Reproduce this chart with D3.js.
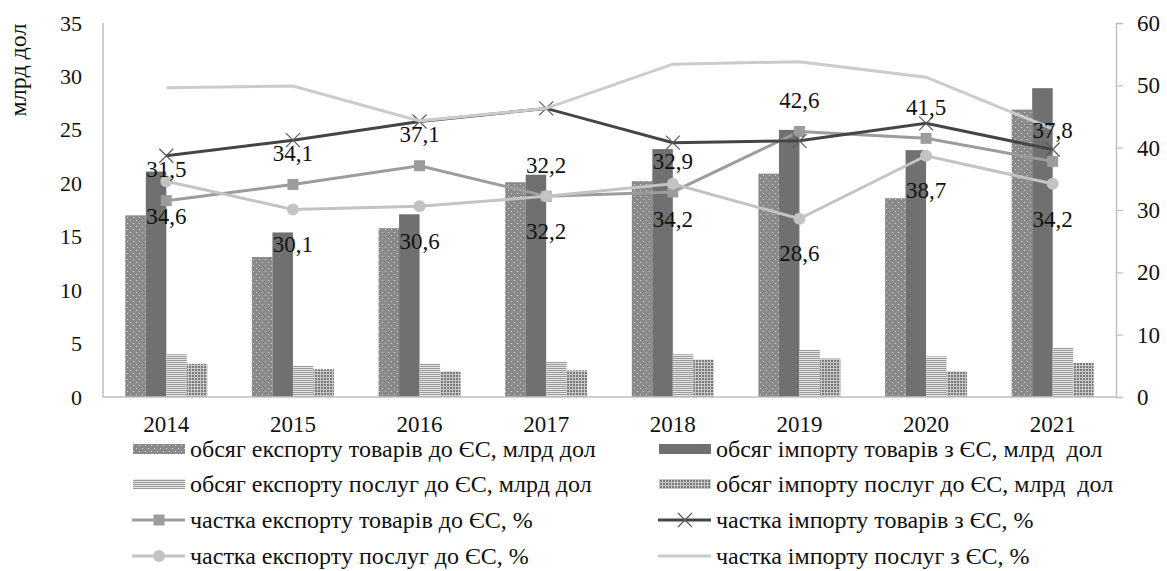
<!DOCTYPE html>
<html><head><meta charset="utf-8">
<script src="https://cdn.jsdelivr.net/npm/d3@7"></script>
<style>body{margin:0;background:#fff}svg{display:block}text{font-family:"Liberation Serif","Tinos","Times New Roman","DejaVu Serif",serif}</style>
</head><body>
<svg id="c" width="1167" height="571"></svg>
<script>
const years = ["2014","2015","2016","2017","2018","2019","2020","2021"];
const exportGoods   = [17.0, 13.1, 15.8, 20.1, 20.2, 20.9, 18.6, 26.9];
const importGoods   = [21.1, 15.4, 17.1, 20.8, 23.2, 25.0, 23.1, 28.9];
const exportServ    = [4.0, 2.9, 3.1, 3.3, 4.0, 4.4, 3.8, 4.6];
const importServ    = [3.1, 2.6, 2.4, 2.5, 3.5, 3.6, 2.4, 3.2];
const shareExpGoods = [31.5, 34.1, 37.1, 32.2, 32.9, 42.6, 41.5, 37.8];
const shareImpGoods = [38.7, 41.2, 44.2, 46.3, 40.8, 41.1, 43.9, 39.7];
const shareExpServ  = [34.6, 30.1, 30.6, 32.2, 34.2, 28.6, 38.7, 34.2];
const shareImpServ  = [49.6, 49.9, 44.3, 46.3, 53.4, 53.8, 51.3, 43.0];
const leftTicks  = [0,5,10,15,20,25,30,35];
const rightTicks = [0,10,20,30,40,50,60];
const leftTitle = "млрд дол";

const FF = '"Liberation Serif","Tinos","Times New Roman","DejaVu Serif",serif';
const svg = d3.select("#c");
const defs = svg.append("defs");
const pDot = defs.append("pattern").attr("id","pDot").attr("patternUnits","userSpaceOnUse").attr("width",6).attr("height",6);
pDot.append("rect").attr("width",6).attr("height",6).attr("fill","#8a8a8a");
pDot.append("rect").attr("x",1).attr("y",1).attr("width",1).attr("height",1).attr("fill","#d8d8d8");
pDot.append("rect").attr("x",4).attr("y",4).attr("width",1).attr("height",1).attr("fill","#d8d8d8");
const pHor = defs.append("pattern").attr("id","pHor").attr("patternUnits","userSpaceOnUse").attr("width",4).attr("height",2);
pHor.append("rect").attr("width",4).attr("height",2).attr("fill","#e6e6e6");
pHor.append("rect").attr("width",4).attr("height",1).attr("fill","#9a9a9a");
const pChk = defs.append("pattern").attr("id","pChk").attr("patternUnits","userSpaceOnUse").attr("width",3).attr("height",3);
pChk.append("rect").attr("width",3).attr("height",3).attr("fill","#c8c8c8");
pChk.append("rect").attr("width",2).attr("height",2).attr("fill","#7a7a7a");

const L = 103, R = 1116, T = 23, B = 397;
const x = d3.scaleBand().domain(years).range([L, R]).paddingInner(0).paddingOuter(0);
const yL = d3.scaleLinear().domain([0,35]).range([B, T]);
const yR = d3.scaleLinear().domain([0,60]).range([B, T]);
const groupW = 82;
const xs = d3.scaleBand().domain([0,1,2,3]).range([0, groupW]).padding(0);

const barSeries = [
  {vals: exportGoods, fill: "url(#pDot)"},
  {vals: importGoods, fill: "#707070"},
  {vals: exportServ, fill: "url(#pHor)"},
  {vals: importServ, fill: "url(#pChk)"}
];

svg.append("line").attr("x1",L).attr("x2",L).attr("y1",T).attr("y2",B).attr("stroke","#bfbfbf").attr("stroke-width",1.5);
svg.append("g").selectAll("text").data(leftTicks).join("text")
  .attr("x",82).attr("y",d=>yL(d)+7.5).attr("text-anchor","end").attr("font-size",22).attr("fill","#111").text(d=>d);
const gR = svg.append("g").attr("transform",`translate(${R},0)`)
  .call(d3.axisRight(yR).tickValues(rightTicks).tickSize(7).tickPadding(14));
gR.attr("font-family",null).attr("font-size",null);
gR.select(".domain").attr("stroke","#bfbfbf").attr("stroke-width",1.5);
gR.selectAll(".tick line").attr("stroke","#bfbfbf").attr("stroke-width",1.2);
gR.selectAll(".tick text").attr("font-size",23).attr("fill","#111").style("font-family",FF).attr("dy","0.33em");

svg.append("text").attr("transform","translate(26,70) rotate(-90)").attr("text-anchor","middle")
  .attr("font-size",24).attr("fill","#111").text(leftTitle);

barSeries.forEach((s,i)=>{
  svg.append("g").selectAll("rect").data(years).join("rect")
    .attr("x",d=>x(d)+x.bandwidth()/2-groupW/2+xs(i))
    .attr("width",xs.bandwidth())
    .attr("y",(d,j)=>yL(s.vals[j]))
    .attr("height",(d,j)=>B-yL(s.vals[j]))
    .attr("fill",s.fill);
});
svg.append("line").attr("x1",L).attr("x2",R).attr("y1",B).attr("y2",B).attr("stroke","#bfbfbf").attr("stroke-width",1.5);

svg.append("g").selectAll("text").data(years).join("text")
  .attr("x",d=>x(d)+x.bandwidth()/2).attr("y",432).attr("text-anchor","middle").attr("font-size",23).attr("fill","#111").text(d=>d);

const cx = d=>x(d)+x.bandwidth()/2;
const lineGen = vals => d3.line().x((d,i)=>cx(years[i])).y(d=>yR(d))(vals);

const lineSeries = [
  {vals: shareExpGoods, color:"#9c9c9c", marker:"square"},
  {vals: shareImpGoods, color:"#454545", marker:"x"},
  {vals: shareExpServ, color:"#c3c3c3", marker:"circle"},
  {vals: shareImpServ, color:"#cbcbcb", marker:"none"}
];
function drawMarker(g, type, px, py, color){
  if(type==="square") g.append("rect").attr("x",px-5.5).attr("y",py-5.5).attr("width",11).attr("height",11).attr("fill",color);
  else if(type==="circle") g.append("circle").attr("cx",px).attr("cy",py).attr("r",6).attr("fill",color);
  else if(type==="x"){
    g.append("path").attr("d",`M${px-7},${py-7}L${px+7},${py+7}M${px+7},${py-7}L${px-7},${py+7}`).attr("stroke","#5a5a5a").attr("stroke-width",1.2).attr("fill","none");
  }
}
lineSeries.forEach(s=>{
  svg.append("path").attr("d",lineGen(s.vals)).attr("fill","none").attr("stroke",s.color).attr("stroke-width",3);
  const g = svg.append("g");
  s.vals.forEach((v,i)=>drawMarker(g, s.marker, cx(years[i]), yR(v), s.color));
});

const fmt = v => d3.format(".1f")(v).replace(".",",");
svg.append("g").selectAll("text").data(shareExpGoods).join("text")
  .attr("x",(d,i)=>cx(years[i])).attr("y",d=>yR(d)-31+7.7).attr("text-anchor","middle").attr("font-size",23).attr("fill","#111").text(fmt);
svg.append("g").selectAll("text").data(shareExpServ).join("text")
  .attr("x",(d,i)=>cx(years[i])).attr("y",d=>yR(d)+35+7.7).attr("text-anchor","middle").attr("font-size",23).attr("fill","#111").text(fmt);

const legend = [
  {col:0,row:0,type:"rect",fill:"url(#pDot)",text:"обсяг експорту товарів до ЄС, млрд дол"},
  {col:1,row:0,type:"rect",fill:"#707070",text:"обсяг імпорту товарів з ЄС, млрд  дол"},
  {col:0,row:1,type:"rect",fill:"url(#pHor)",text:"обсяг експорту послуг до ЄС, млрд дол"},
  {col:1,row:1,type:"rect",fill:"url(#pChk)",text:"обсяг імпорту послуг до ЄС, млрд  дол"},
  {col:0,row:2,type:"line",color:"#9c9c9c",marker:"square",text:"частка експорту товарів до ЄС, %"},
  {col:1,row:2,type:"line",color:"#454545",marker:"x",text:"частка імпорту товарів з ЄС, %"},
  {col:0,row:3,type:"line",color:"#c3c3c3",marker:"circle",text:"частка експорту послуг до ЄС, %"},
  {col:1,row:3,type:"line",color:"#cbcbcb",marker:"none",text:"частка імпорту послуг з ЄС, %"}
];
const colX = [133, 659], rowY = [449, 484, 520, 556];
legend.forEach(e=>{
  const g = svg.append("g");
  const x0 = colX[e.col], y0 = rowY[e.row];
  if(e.type==="rect") g.append("rect").attr("x",x0).attr("y",y0-5).attr("width",52).attr("height",10).attr("fill",e.fill);
  else {
    g.append("line").attr("x1",x0-1).attr("x2",x0+52).attr("y1",y0).attr("y2",y0).attr("stroke",e.color).attr("stroke-width",3);
    drawMarker(g, e.marker, x0+26, y0, e.color);
  }
  g.append("text").attr("x",x0+57).attr("y",y0+8).attr("font-size",24).attr("fill","#111").style("white-space","pre").text(e.text);
});
</script>
</body></html>
